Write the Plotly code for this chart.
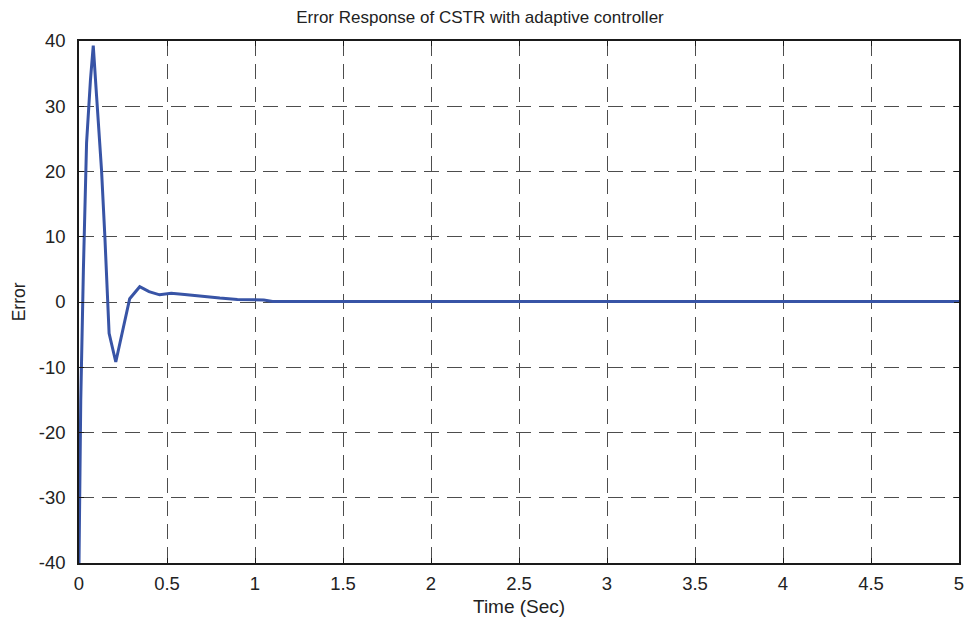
import plotly.graph_objects as go

# Data
time_s = [0, 0.01, 0.025, 0.043, 0.065, 0.081, 0.1, 0.128, 0.147, 0.171, 0.209,
          0.288, 0.345, 0.398, 0.458, 0.524, 0.6, 0.7, 0.8, 0.9, 1.0, 1.05, 1.1,
          1.5, 2.0, 3.0, 4.0, 5.0]
error = [-40, -15, 5, 24.4, 34, 39.3, 31.5, 20.2, 10, -4.8, -9.2,
         0.5, 2.35, 1.6, 1.1, 1.35, 1.15, 0.85, 0.6, 0.4, 0.4, 0.3, 0.08,
         0.08, 0.08, 0.08, 0.08, 0.08]

x_ticks = [0, 0.5, 1, 1.5, 2, 2.5, 3, 3.5, 4, 4.5, 5]
x_tick_text = ["0", "0.5", "1", "1.5", "2", "2.5", "3", "3.5", "4", "4.5", "5"]
y_ticks = [-40, -30, -20, -10, 0, 10, 20, 30, 40]
y_tick_text = ["-40", "-30", "-20", "-10", "0", "10", "20", "30", "40"]

FONT = "Liberation Sans, Arial, Helvetica, sans-serif"
TXT = "#222222"
PLOT_W = 969 - 79 - 5
PLOT_H = 619 - 41 - 56

fig = go.Figure()
fig.add_trace(go.Scatter(
    x=time_s, y=error, mode="lines",
    line=dict(color="rgb(56,84,166)", width=3),
    showlegend=False,
))

axis_common = dict(
    showline=True, linecolor="#1a1a1a", linewidth=1.5, mirror="ticks",
    ticks="inside", ticklen=5, tickcolor="#1a1a1a",
    showgrid=True, gridcolor="#4d4d4d", gridwidth=1, griddash="15px,8px",
    zeroline=False,
    tickfont=dict(family=FONT, size=18.5, color=TXT),
)

fig.update_xaxes(range=[0, 5], tickvals=x_ticks, ticktext=x_tick_text,
                 ticklabelstandoff=3, **axis_common)
fig.update_yaxes(range=[-40, 40], tickvals=y_ticks, ticktext=y_tick_text,
                 ticklabelstandoff=8, **axis_common)

fig.add_annotation(text="Time (Sec)", xref="paper", yref="paper",
                   x=(521 - 79) / PLOT_W, y=-(606 - 563) / PLOT_H,
                   xanchor="center", yanchor="middle", showarrow=False,
                   font=dict(family=FONT, size=19, color=TXT))
fig.add_annotation(text="Error", xref="paper", yref="paper",
                   x=-(79 - 19) / PLOT_W, y=0.5, textangle=-90,
                   xanchor="center", yanchor="middle", showarrow=False,
                   font=dict(family=FONT, size=17.5, color=TXT))

fig.update_layout(
    width=969, height=619,
    margin=dict(l=79, r=5, t=41, b=56),
    paper_bgcolor="white", plot_bgcolor="white",
    title=dict(text="Error Response of CSTR with adaptive controller",
               font=dict(family=FONT, size=17, color=TXT),
               x=480 / 969, xanchor="center", y=1 - 17 / 619, yanchor="middle"),
)

fig.write_html("out.html")
